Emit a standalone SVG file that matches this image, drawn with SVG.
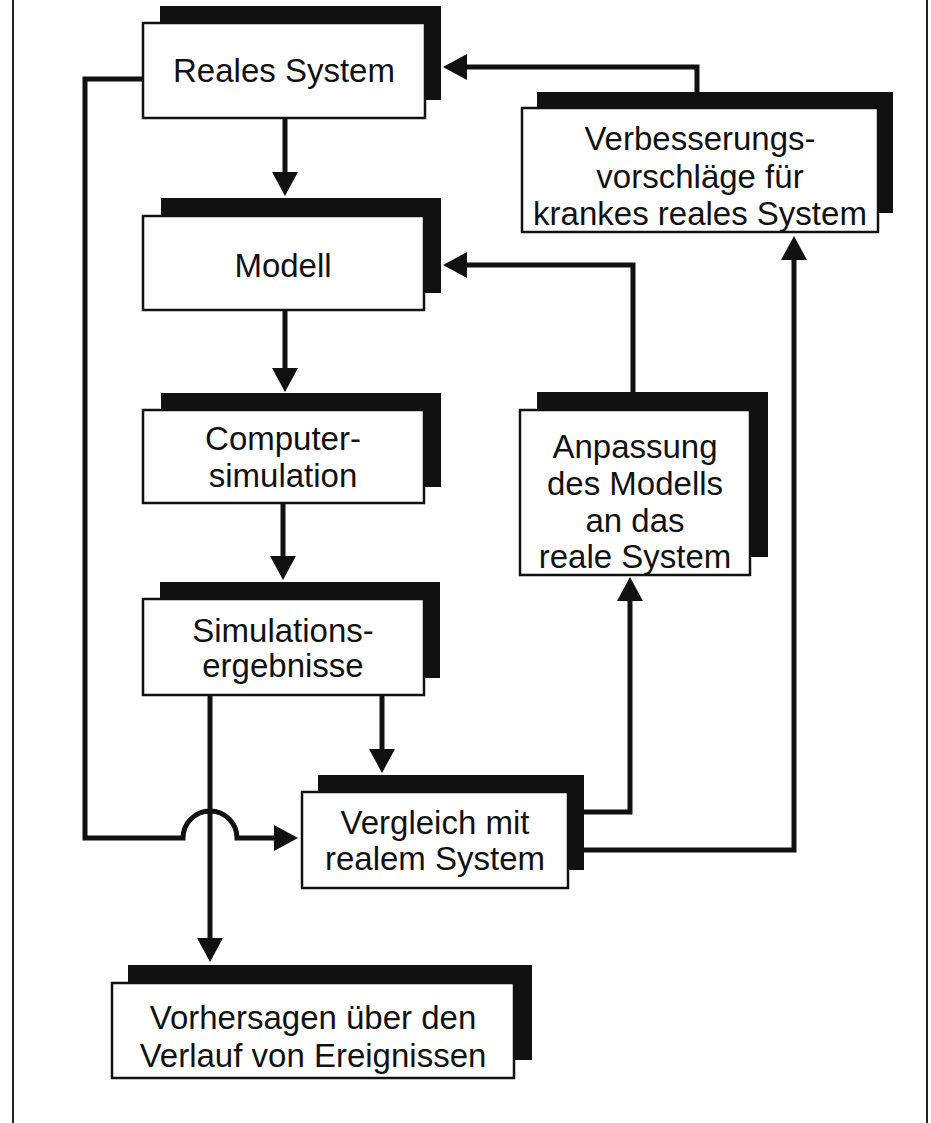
<svg xmlns="http://www.w3.org/2000/svg" width="931" height="1123" viewBox="0 0 931 1123">
<style>
.sh{fill:#111}
.bx{fill:#fff;stroke:#111;stroke-width:2.5}
.t{font-family:"Liberation Sans",Arial,sans-serif;font-size:33px;fill:#111;text-anchor:middle}
.c{fill:none;stroke:#111;stroke-width:5;stroke-linejoin:miter}
.pg{stroke:#222;stroke-width:2}
</style>
<defs>
<marker id="ah" viewBox="0 0 24 26" markerWidth="24" markerHeight="26" refX="2" refY="13" markerUnits="userSpaceOnUse" orient="auto">
<path d="M0,0 L24,13 L0,26 Z" fill="#111"/>
</marker>
</defs>
<rect width="931" height="1123" fill="#fff"/>
<line class="pg" x1="13" y1="0" x2="13" y2="1123"/>
<line class="pg" x1="927" y1="0" x2="927" y2="1123"/>

<g id="connectors">
<path class="c" d="M285,118 V174" marker-end="url(#ah)"/>
<path class="c" d="M285,310 V370" marker-end="url(#ah)"/>
<path class="c" d="M283,503 V558" marker-end="url(#ah)"/>
<path class="c" d="M382,695 V751" marker-end="url(#ah)"/>
<path class="c" d="M210,695 V940" marker-end="url(#ah)"/>
<path class="c" d="M143,79 H85 V838 H183 A27,27 0 0 1 237,838 H276" marker-end="url(#ah)"/>
<path class="c" d="M584,812 H630 V599" marker-end="url(#ah)"/>
<path class="c" d="M584,850 H794 V258" marker-end="url(#ah)"/>
<path class="c" d="M633,392 V265 H465" marker-end="url(#ah)"/>
<path class="c" d="M697,92 V67 H465" marker-end="url(#ah)"/>
</g>

<g id="reales">
<rect class="sh" x="160" y="6" width="281" height="94"/>
<rect class="bx" x="143" y="23" width="282" height="95"/>
<text class="t" x="284" y="82">Reales System</text>
</g>

<g id="verbesserung">
<rect class="sh" x="537" y="92" width="356" height="121"/>
<rect class="bx" x="522" y="108" width="356" height="124"/>
<text class="t" x="700" y="150">Verbesserungs-</text>
<text class="t" x="700" y="188">vorschläge für</text>
<text class="t" x="700" y="225">krankes reales System</text>
</g>

<g id="modell">
<rect class="sh" x="161" y="198" width="280" height="95"/>
<rect class="bx" x="143" y="216" width="281" height="94"/>
<text class="t" x="283" y="277">Modell</text>
</g>

<g id="computer">
<rect class="sh" x="161" y="393" width="280" height="94"/>
<rect class="bx" x="143" y="410" width="281" height="93"/>
<text class="t" x="283" y="450">Computer-</text>
<text class="t" x="283" y="487">simulation</text>
</g>

<g id="simergebnisse">
<rect class="sh" x="160" y="582" width="280" height="96"/>
<rect class="bx" x="143" y="599" width="281" height="96"/>
<text class="t" x="283" y="642">Simulations-</text>
<text class="t" x="283" y="677">ergebnisse</text>
</g>

<g id="anpassung">
<rect class="sh" x="537" y="392" width="231" height="165"/>
<rect class="bx" x="520" y="410" width="230" height="165"/>
<text class="t" x="635" y="458">Anpassung</text>
<text class="t" x="635" y="495">des Modells</text>
<text class="t" x="635" y="532">an das</text>
<text class="t" x="635" y="568">reale System</text>
</g>

<g id="vergleich">
<rect class="sh" x="318" y="775" width="266" height="95"/>
<rect class="bx" x="302" y="792" width="266" height="96"/>
<text class="t" x="435" y="834">Vergleich mit</text>
<text class="t" x="435" y="870">realem System</text>
</g>

<g id="vorhersagen">
<rect class="sh" x="128" y="965" width="404" height="95"/>
<rect class="bx" x="112" y="983" width="402" height="95"/>
<text class="t" x="313" y="1029">Vorhersagen über den</text>
<text class="t" x="313" y="1067">Verlauf von Ereignissen</text>
</g>
</svg>
